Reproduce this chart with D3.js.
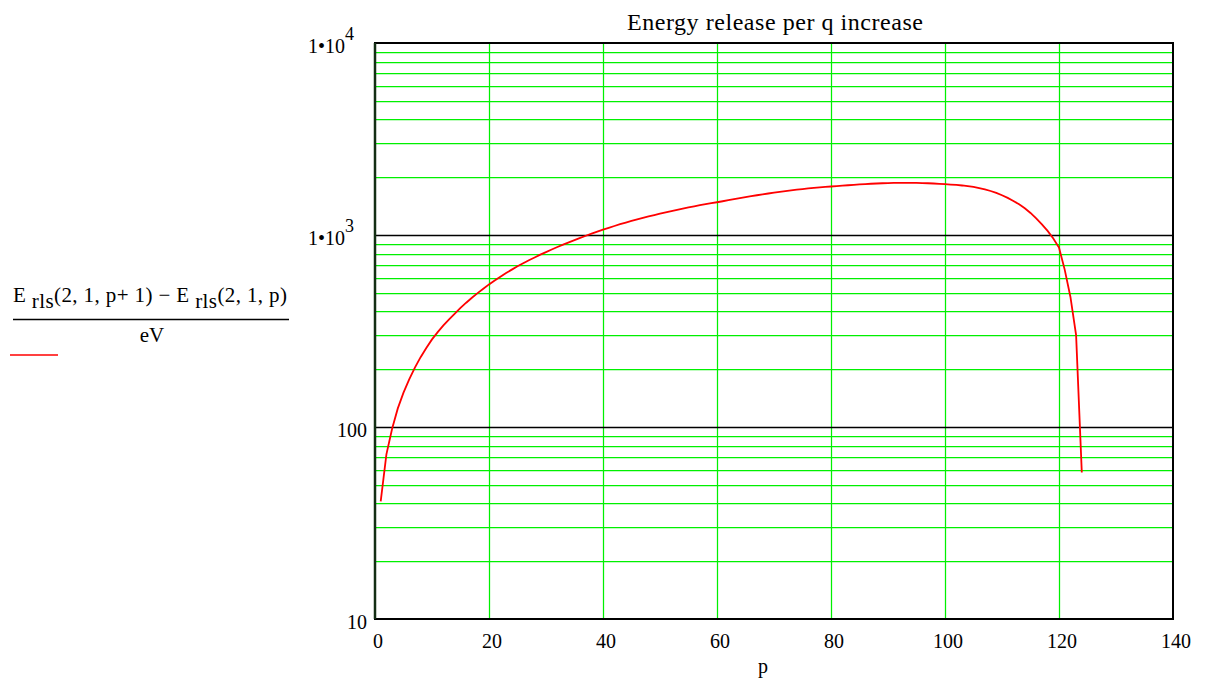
<!DOCTYPE html>
<head>
  <meta charset="utf-8">
  <script src="https://d3js.org/d3.v7.min.js"></script>
  <style>
    body{ margin: 0; background: #ffffff; }
    text{
      font-family: "Liberation Serif", "DejaVu Serif", serif;
      fill: #000000;
    }
    text.title{ font-size: 24px; }
    text.tickLabel{ font-size: 20px; }
    text.axisLabel{ font-size: 20px; }
    text.legend{ font-size: 21px; }
  </style>
</head>

<body>
  <script>
    var width = 1206;
    var height = 685;

    var svg = d3.select("body").append("svg")
      .attr("width", width)
      .attr("height", height);

    // p values and the energy difference (eV)
    const pValues = d3.range(1, 125);
    const energy = [
      41, 72, 98, 125, 151, 177, 204, 231, 258, 286,          // 1-10
      312, 338, 364, 390, 417, 444, 471, 498, 525, 553,       // 11-20
      580, 607, 634, 660, 687, 713, 739, 764, 790, 815,       // 21-30
      840, 866, 891, 916, 941, 966, 991, 1016, 1041, 1066,    // 31-40
      1090, 1114, 1138, 1161, 1184, 1206, 1228, 1250, 1271, 1292,  // 41-50
      1313, 1333, 1353, 1373, 1392, 1411, 1430, 1448, 1465, 1481,  // 51-60
      1499, 1518, 1537, 1556, 1575, 1593, 1611, 1628, 1645, 1661,  // 61-70
      1677, 1692, 1707, 1721, 1734, 1747, 1759, 1770, 1780, 1789,  // 71-80
      1798, 1807, 1816, 1825, 1834, 1842, 1849, 1855, 1860, 1864,  // 81-90
      1867, 1869, 1870, 1869, 1867, 1864, 1860, 1854, 1847, 1839,  // 91-100
      1831, 1822, 1811, 1797, 1779, 1756, 1728, 1695, 1656, 1610,  // 101-110
      1560, 1505, 1445, 1378, 1303, 1220, 1135, 1050, 958, 860,    // 111-120
      660, 477, 301, 58                                            // 121-124
    ];
    const data = pValues.map((p, i) => ({p: p, e: energy[i]}));

    const xTicks = [0, 20, 40, 60, 80, 100, 120, 140];
    const xGrid = [20, 40, 60, 80, 100, 120];
    const yMajor = [100, 1000];
    const yLabels = [
      {v: 10, txt: "10"},
      {v: 100, txt: "100"},
      {v: 1000, base: "1\u202210", exp: "3"},
      {v: 10000, base: "1\u202210", exp: "4"}
    ];

    let x = d3.scaleLinear()
      .domain([0, 140])
      .range([375, 1173]);

    let y = d3.scaleLog()
      .domain([10, 10000])
      .range([619, 43]);

    // minor grid: 2..9 in every decade
    let yMinor = [];
    [10, 100, 1000].forEach(d => {
      for (let k = 2; k <= 9; k++) yMinor.push(d * k);
    });

    svg.append("g")
      .selectAll("line.minor")
      .data(yMinor)
      .enter()
      .append("line")
      .attr("class", "minor")
      .attr("x1", x(0)).attr("x2", x(140))
      .attr("y1", d => Math.round(y(d)) + 0.5)
      .attr("y2", d => Math.round(y(d)) + 0.5)
      .style("stroke", "#00f000")
      .style("stroke-width", 1.25);

    svg.append("g")
      .selectAll("line.xgrid")
      .data(xGrid)
      .enter()
      .append("line")
      .attr("class", "xgrid")
      .attr("x1", d => Math.round(x(d)) + 0.5)
      .attr("x2", d => Math.round(x(d)) + 0.5)
      .attr("y1", y(10000)).attr("y2", y(10))
      .style("stroke", "#00f000")
      .style("stroke-width", 1.25);

    svg.append("g")
      .selectAll("line.major")
      .data(yMajor)
      .enter()
      .append("line")
      .attr("class", "major")
      .attr("x1", x(0)).attr("x2", x(140))
      .attr("y1", d => Math.round(y(d)) + 0.5)
      .attr("y2", d => Math.round(y(d)) + 0.5)
      .style("stroke", "#000000")
      .style("stroke-width", 1.5);

    // frame
    svg.append("rect")
      .attr("x", x(0))
      .attr("y", y(10000))
      .attr("width", x(140) - x(0))
      .attr("height", y(10) - y(10000))
      .style("fill", "none")
      .style("stroke", "#000000")
      .style("stroke-width", 2);

    svg.append("line")
      .attr("x1", x(0)).attr("x2", x(0))
      .attr("y1", y(10000)).attr("y2", y(10))
      .style("stroke", "#142e14")
      .style("stroke-width", 2.5);

    // curve
    let line = d3.line()
      .x(d => x(d.p))
      .y(d => y(d.e));

    svg.append("path")
      .datum(data)
      .attr("d", line)
      .style("fill", "none")
      .style("stroke", "#ff0000")
      .style("stroke-width", 1.8);

    // x tick labels
    svg.append("g")
      .selectAll("text.xtick")
      .data(xTicks)
      .enter()
      .append("text")
      .attr("class", "tickLabel")
      .attr("x", d => x(d) + 3)
      .attr("y", 648)
      .style("text-anchor", "middle")
      .text(d => d);

    // y tick labels
    let yl = svg.append("g")
      .selectAll("text.ytick")
      .data(yLabels)
      .enter()
      .append("text")
      .attr("class", "tickLabel")
      .attr("x", d => d.exp ? 354 : 367)
      .attr("y", d => y(d.v) + 10)
      .style("text-anchor", "end");

    yl.append("tspan").text(d => d.base || d.txt);
    yl.filter(d => d.exp)
      .append("tspan")
      .attr("dy", -13)
      .style("font-size", "18px")
      .text(d => d.exp);

    // title and axis label
    svg.append("text")
      .attr("class", "title")
      .attr("x", 775)
      .attr("y", 30)
      .attr("textLength", 296)
      .attr("lengthAdjust", "spacing")
      .style("text-anchor", "middle")
      .text("Energy release per q increase");

    svg.append("text")
      .attr("class", "axisLabel")
      .attr("x", 763)
      .attr("y", 673)
      .style("text-anchor", "middle")
      .text("p");

    // legend: the expression plotted
    let num = svg.append("text")
      .attr("class", "legend")
      .attr("x", 13)
      .attr("y", 302)
      .attr("textLength", 274)
      .attr("lengthAdjust", "spacing");

    num.append("tspan").text("E ");
    num.append("tspan").attr("dy", 6).text("rls");
    num.append("tspan").attr("dy", -6).text("(2, 1, p+ 1) \u2212 E ");
    num.append("tspan").attr("dy", 6).text("rls");
    num.append("tspan").attr("dy", -6).text("(2, 1, p)");

    svg.append("line")
      .attr("x1", 13).attr("x2", 289)
      .attr("y1", 319.5).attr("y2", 319.5)
      .style("stroke", "#000000")
      .style("stroke-width", 1.5);

    svg.append("text")
      .attr("class", "legend")
      .attr("x", 152)
      .attr("y", 342)
      .style("text-anchor", "middle")
      .text("eV");

    svg.append("line")
      .attr("x1", 10).attr("x2", 58)
      .attr("y1", 355).attr("y2", 355)
      .style("stroke", "#ff0000")
      .style("stroke-width", 1.5);
  </script>
</body>
